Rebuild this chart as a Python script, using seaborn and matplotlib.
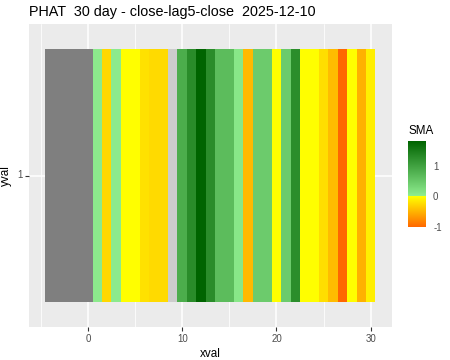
import numpy as np
import pandas as pd
import matplotlib
matplotlib.use("Agg")
import matplotlib.pyplot as plt
import seaborn as sns
from matplotlib.colors import LinearSegmentedColormap

# data (x=-4..0 are missing -> gray)
xval = list(range(-4, 31))
sma = [np.nan] * 5 + [
    0.05, -0.26, 0.05, -0.01, -0.01, -0.20, -0.25, -0.25, 0.0, 0.86,
    1.30, 1.83, 1.30, 0.66, 0.66, 0.10, -0.47, 0.46, 0.46, -0.01,
    0.46, 1.28, -0.01, -0.01, -0.22, -0.45, -1.02, -0.01, -0.52, -0.11,
]
yval = ["1"]
title = "PHAT  30 day - close-lag5-close  2025-12-10"

sns.set_theme(style="darkgrid", rc={
    "axes.facecolor": "#EBEBEB",
    "grid.color": "white",
    "axes.edgecolor": "#EBEBEB",
})
plt.rcParams["font.family"] = ["Liberation Sans", "DejaVu Sans"]
plt.rcParams["axes.unicode_minus"] = False

df = pd.DataFrame([sma], index=yval, columns=xval)

vmin, vmax = np.nanmin(sma), np.nanmax(sma)
z = (0 - vmin) / (vmax - vmin)
eps = 0.0008
cmap = LinearSegmentedColormap.from_list("sma", [
    (0.0, "#FF6600"),
    (z - eps, "#FFFF00"),
    (z - eps / 2, "#CCCCCC"),
    (z + eps / 2, "#CCCCCC"),
    (z + eps, "#90EE90"),
    (1.0, "#006400"),
], N=8192)
cmap.set_bad("#7F7F7F")

fig = plt.figure(figsize=(4.5, 3.6), dpi=100)
ax = fig.add_axes([0.0644, 0.0917, 0.8067, 0.8416])
cax = fig.add_axes([0.907, 0.369, 0.040, 0.239])

sns.heatmap(df, ax=ax, cmap=cmap, vmin=vmin, vmax=vmax, cbar_ax=cax,
            cbar_kws={"ticks": [-1, 0, 1]})

# map continuous x values onto heatmap cell positions
off = 4.5
ax.set_xlim(-6.25 + off, 32.25 + off)
ax.set_ylim(1.1, -0.1)
ax.set_xticks([v + off for v in [0, 10, 20, 30]])
ax.set_xticklabels(["0", "10", "20", "30"], rotation=0)
ax.set_xticks([v + off for v in [-5, 5, 15, 25]], minor=True)
ax.set_yticks([0.5])
ax.set_yticklabels(["1"], rotation=0)
ax.set_axisbelow(True)
ax.grid(True, which="major", color="white", linewidth=1.1)
ax.grid(True, which="minor", color="white", linewidth=0.55)
ax.tick_params(axis="both", which="major", length=2.7, width=0.8,
               color="#333333", labelcolor="#4D4D4D", labelsize=7.0, pad=2,
               bottom=True, left=True)
ax.tick_params(which="minor", length=0)
for s in ax.spines.values():
    s.set_visible(False)
ax.set_xlabel("xval", fontsize=8.4, color="black", labelpad=3)
ax.set_ylabel("yval", fontsize=8.4, color="black", labelpad=4)
ax.set_title(title, loc="left", fontsize=10.4, color="black", pad=6)

cax.tick_params(axis="y", direction="in", length=3, width=0.6, color="white",
                labelcolor="#4D4D4D", labelsize=7.0, pad=5, left=True, right=True)
cax.set_title("SMA", loc="left", fontsize=8.4, color="black", pad=5)

fig.savefig("out.png", dpi=100)
